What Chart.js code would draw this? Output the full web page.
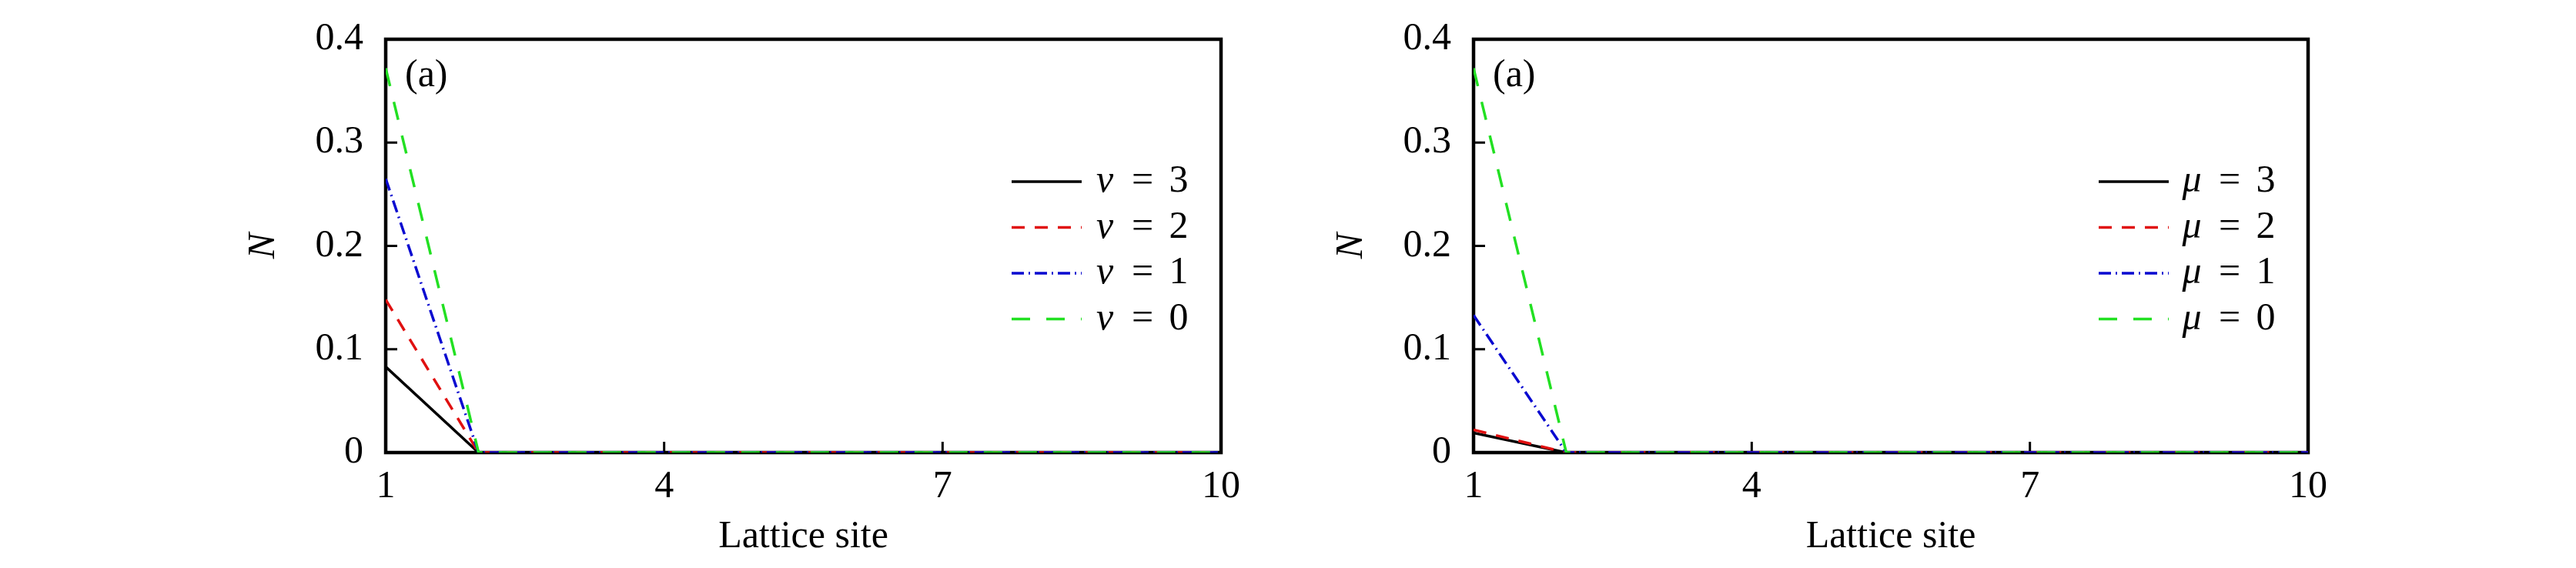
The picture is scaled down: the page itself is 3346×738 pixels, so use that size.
<!DOCTYPE html>
<html>
<head>
<meta charset="utf-8">
<script src="https://cdn.jsdelivr.net/npm/chart.js@4/dist/chart.umd.min.js"></script>
<style>
  html, body { margin: 0; padding: 0; background: #ffffff; }
  #wrap { position: relative; width: 3346px; height: 738px; background: #fff; }
  canvas { position: absolute; top: 0; }
  .preload { position: absolute; left: -9999px; top: 0; font-family: "Liberation Serif"; font-size: 48px; }
</style>
</head>
<body>
<span class="preload">0.1234 Lattice site (a) = <i>v μ N</i></span>
<div id="wrap">
  <canvas id="left" width="1673" height="738" style="left:0px"></canvas>
  <canvas id="right" width="1673" height="738" style="left:1673px"></canvas>
</div>
<script>
// ---- data ----
const sites = [1, 2, 3, 4, 5, 6, 7, 8, 9, 10];
const xTickValues = [1, 4, 7, 10];
const yTickValues = [0, 0.1, 0.2, 0.3, 0.4];
const xTitle = 'Lattice site';
const yTitle = 'N';
const panelTag = '(a)';

const leftSymbol = 'v';
const leftValues = ['3', '2', '1', '0'];
const leftV3 = [0.083, 0, 0, 0, 0, 0, 0, 0, 0, 0];
const leftV2 = [0.148, 0, 0, 0, 0, 0, 0, 0, 0, 0];
const leftV1 = [0.265, 0, 0, 0, 0, 0, 0, 0, 0, 0];
const leftV0 = [0.372, 0, 0, 0, 0, 0, 0, 0, 0, 0];

const rightSymbol = 'μ';
const rightValues = ['3', '2', '1', '0'];
const rightMu3 = [0.019, 0, 0, 0, 0, 0, 0, 0, 0, 0];
const rightMu2 = [0.022, 0, 0, 0, 0, 0, 0, 0, 0, 0];
const rightMu1 = [0.133, 0, 0, 0, 0, 0, 0, 0, 0, 0];
const rightMu0 = [0.372, 0, 0, 0, 0, 0, 0, 0, 0, 0];

// ---- styles ----
const seriesColors = ['#000000', '#e01010', '#0a0ad0', '#22e022'];
const seriesDashes = [[], [17, 13], [16, 6, 2, 6], [24, 21]];
const FONT = "'Liberation Serif', serif";
const FS = 50;

function toPoints(arr) { return sites.map((s, i) => ({ x: s, y: arr[i] })); }

function makeDatasets(seriesList, symbol, values) {
  return seriesList.map((arr, i) => ({
    label: symbol + ' = ' + values[i],
    symbol: symbol,
    valueText: values[i],
    data: toPoints(arr),
    borderColor: seriesColors[i],
    backgroundColor: seriesColors[i],
    borderDash: seriesDashes[i],
    borderWidth: 3.5,
    pointRadius: 0,
    tension: 0,
    fill: false,
    order: 4 - i
  }));
}

const framePlugin = {
  id: 'framePlugin',
  beforeDatasetsDraw(chart) {
    const { ctx, chartArea: a, scales } = chart;
    ctx.save();
    ctx.strokeStyle = '#000';
    ctx.lineWidth = 4.5;
    ctx.setLineDash([]);
    ctx.strokeRect(a.left, a.top, a.right - a.left, a.bottom - a.top);
    ctx.lineWidth = 3;
    yTickValues.forEach(v => {
      if (v === yTickValues[0] || v === yTickValues[yTickValues.length - 1]) return;
      const y = scales.y.getPixelForValue(v);
      ctx.beginPath(); ctx.moveTo(a.left, y); ctx.lineTo(a.left + 15, y); ctx.stroke();
    });
    xTickValues.forEach(v => {
      if (v === xTickValues[0] || v === xTickValues[xTickValues.length - 1]) return;
      const x = scales.x.getPixelForValue(v);
      ctx.beginPath(); ctx.moveTo(x, a.bottom); ctx.lineTo(x, a.bottom - 14); ctx.stroke();
    });
    ctx.restore();
  },
  afterDraw(chart) {
    const { ctx, chartArea: a } = chart;
    ctx.save();
    ctx.fillStyle = '#000';
    ctx.textBaseline = 'middle';
    ctx.textAlign = 'left';
    ctx.font = FS + 'px ' + FONT;
    ctx.fillText(panelTag, a.left + 25, a.top + 48);
    const lx = a.right - 272;
    const rowY0 = a.top + 185;
    const rowStep = 59.5;
    chart.data.datasets.forEach((ds, i) => {
      const y = rowY0 + i * rowStep;
      ctx.strokeStyle = ds.borderColor;
      ctx.lineWidth = 3.5;
      ctx.setLineDash(ds.borderDash);
      ctx.beginPath(); ctx.moveTo(lx, y); ctx.lineTo(lx + 91, y); ctx.stroke();
      ctx.setLineDash([]);
      ctx.textAlign = 'center';
      ctx.font = 'italic ' + FS + 'px ' + FONT;
      ctx.fillText(ds.symbol, lx + 121, y);
      ctx.font = FS + 'px ' + FONT;
      ctx.fillText('=', lx + 170, y);
      ctx.fillText(ds.valueText, lx + 217, y);
    });
    ctx.restore();
  }
};

function makeChart(id, datasets, padLeft, padRight) {
  return new Chart(document.getElementById(id), {
    type: 'line',
    data: { datasets },
    plugins: [framePlugin],
    options: {
      responsive: false,
      animation: false,
      layout: { padding: { left: padLeft, right: padRight, top: 38, bottom: 0 } },
      plugins: { legend: { display: false }, tooltip: { enabled: false } },
      scales: {
        x: {
          type: 'linear',
          min: xTickValues[0],
          max: xTickValues[xTickValues.length - 1],
          afterBuildTicks(scale) { scale.ticks = xTickValues.map(v => ({ value: v })); },
          afterFit(scale) { scale.height = 150; },
          grid: { display: false },
          border: { display: false },
          ticks: { color: '#000', padding: 7, maxRotation: 0, autoSkip: false,
                   font: { family: FONT, size: FS } },
          title: { display: true, text: xTitle, color: '#000',
                   padding: { top: 0, bottom: 10 }, font: { family: FONT, size: FS } }
        },
        y: {
          type: 'linear',
          min: yTickValues[0],
          max: yTickValues[yTickValues.length - 1],
          afterBuildTicks(scale) { scale.ticks = yTickValues.map(v => ({ value: v })); },
          afterFit(scale) { scale.width = 188; },
          grid: { display: false },
          border: { display: false },
          ticks: { color: '#000', padding: 21, autoSkip: false,
                   font: { family: FONT, size: FS },
                   callback: v => String(Math.round(v * 10) / 10) },
          title: { display: true, text: yTitle, color: '#000',
                   padding: { top: 0, bottom: 0 }, font: { family: FONT, size: FS, style: 'italic' } }
        }
      }
    }
  });
}

function build() {
  makeChart('left', makeDatasets([leftV3, leftV2, leftV1, leftV0], leftSymbol, leftValues), 313, 87);
  makeChart('right', makeDatasets([rightMu3, rightMu2, rightMu1, rightMu0], rightSymbol, rightValues), 53, 348);
}
Promise.all([
  document.fonts.load(FS + "px 'Liberation Serif'"),
  document.fonts.load('italic ' + FS + "px 'Liberation Serif'")
]).then(build, build);
</script>
</body>
</html>
